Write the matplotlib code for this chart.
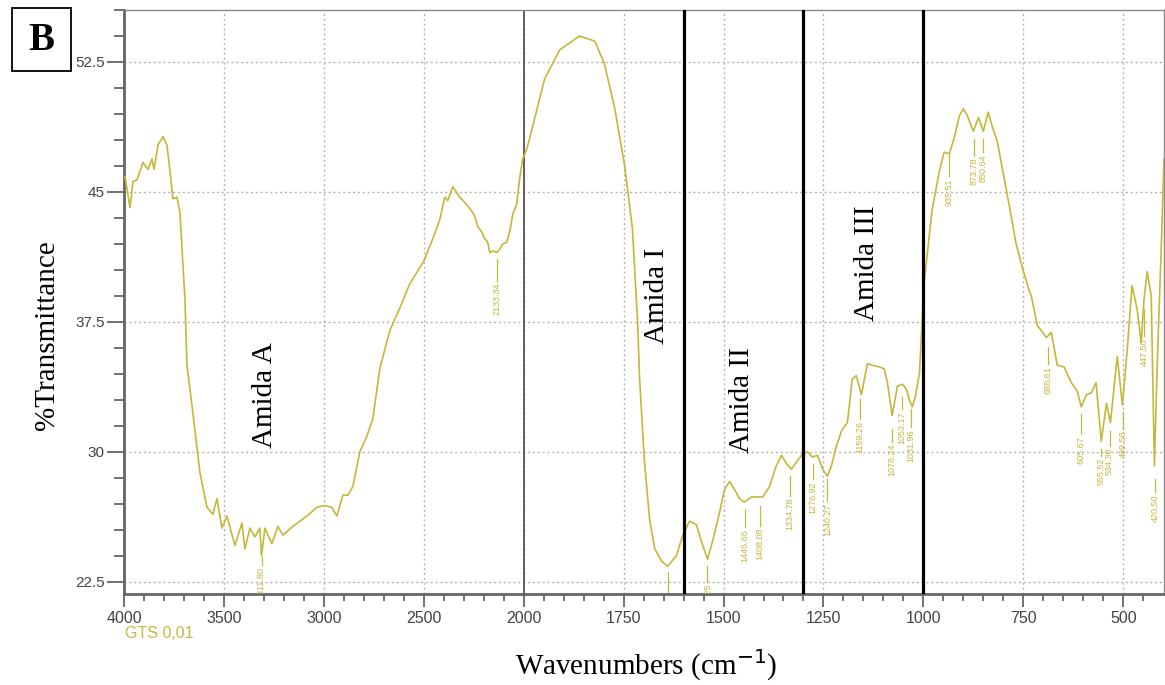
import numpy as np
import matplotlib.pyplot as plt
from matplotlib.patches import Rectangle

# FTIR spectrum (wavenumber cm-1, %T)
wavenumber = [3995, 3970, 3955, 3935, 3905, 3880, 3860, 3850, 3830, 3805,
              3785, 3770, 3755, 3735, 3720, 3695, 3685, 3660, 3620, 3585,
              3555, 3535, 3510, 3485, 3445, 3410, 3395, 3370, 3345, 3320,
              3312, 3295, 3260, 3230, 3205, 3155, 3085, 3035, 2995, 2960,
              2935, 2905, 2880, 2855, 2820, 2785, 2755, 2720, 2670, 2620,
              2570, 2500, 2445, 2420, 2395, 2380, 2355, 2320, 2295, 2260,
              2245, 2230, 2210, 2195, 2180, 2170, 2155, 2135, 2120, 2105,
              2085, 2070, 2055, 2035, 2020, 2005, 1992, 1985, 1948, 1910,
              1860, 1822, 1798, 1772, 1748, 1728, 1715, 1710, 1698, 1685,
              1672, 1655, 1640, 1618, 1602, 1585, 1568, 1552, 1540, 1528,
              1510, 1498, 1485, 1472, 1460, 1448, 1430, 1418, 1402, 1385,
              1368, 1355, 1342, 1330, 1318, 1302, 1290, 1278, 1265, 1252,
              1240, 1230, 1218, 1205, 1190, 1178, 1168, 1155, 1140, 1128,
              1110, 1098, 1090, 1078, 1065, 1052, 1042, 1035, 1028, 1020,
              1010, 998, 978, 960, 948, 935, 922, 910, 900, 890,
              875, 862, 850, 838, 828, 815, 802, 785, 768, 752,
              735, 730, 715, 702, 692, 680, 665, 648, 630, 615,
              605, 592, 580, 568, 555, 542, 532, 515, 502, 490,
              478, 465, 455, 448, 440, 430, 422, 415, 405, 398]
transmittance = [45.9, 44.1, 45.6, 45.7, 46.7, 46.3, 46.9, 46.3, 47.7, 48.2,
                 47.7, 46.2, 44.6, 44.7, 43.8, 38.8, 35.0, 32.7, 28.8, 26.8,
                 26.4, 27.3, 25.6, 26.3, 24.6, 25.9, 24.4, 25.6, 25.1, 25.6,
                 24.0, 25.6, 24.7, 25.7, 25.2, 25.7, 26.3, 26.8, 26.9, 26.8,
                 26.3, 27.5, 27.5, 28.0, 30.0, 30.9, 31.9, 34.8, 37.0, 38.3,
                 39.7, 41.0, 42.6, 43.4, 44.7, 44.5, 45.3, 44.7, 44.4, 43.9,
                 43.6, 43.0, 42.7, 42.3, 42.1, 41.5, 41.6, 41.5, 41.7, 42.0,
                 42.1, 42.7, 43.7, 44.3, 45.8, 46.9, 47.5, 48.1, 51.5, 53.2,
                 54.0, 53.7, 52.4, 49.8, 46.6, 42.9, 37.5, 34.2, 29.5, 26.1,
                 24.4, 23.7, 23.4, 24.0, 25.2, 26.0, 25.8, 24.6, 23.8, 24.8,
                 26.5, 27.8, 28.3, 27.8, 27.3, 27.1, 27.4, 27.4, 27.4, 28.0,
                 29.2, 29.8, 29.3, 29.0, 29.4, 29.9, 30.0, 29.7, 29.8, 29.0,
                 28.6, 29.2, 30.3, 31.2, 31.7, 34.2, 34.4, 33.3, 35.1, 35.0,
                 34.9, 34.8, 34.0, 32.1, 33.8, 33.9, 33.6, 33.0, 32.6, 33.2,
                 34.5, 39.8, 44.0, 46.2, 47.3, 47.2, 48.2, 49.4, 49.8, 49.4,
                 48.5, 49.3, 48.5, 49.6, 48.8, 47.9, 46.3, 44.2, 42.0, 40.6,
                 39.3, 39.0, 37.3, 36.9, 36.6, 36.9, 35.0, 34.9, 34.0, 33.5,
                 32.6, 33.3, 33.4, 34.0, 30.6, 32.8, 31.7, 35.5, 32.7, 35.9,
                 39.6, 38.2, 36.3, 38.8, 40.4, 39.0, 29.2, 35.0, 41.7, 46.9]

# peak labels: position, text, top/bottom of the marker line (%T)
peak_wn = [3311.80, 2133.34, 1640.0, 1540.25, 1446.66, 1408.08, 1334.78,
           1276.92, 1240.27, 1159.26, 1078.24, 1053.17, 1031.96, 935.51,
           873.78, 850.64, 688.61, 605.67, 555.52, 534.30, 499.58, 447.50,
           420.50]
peak_text = ['3311.80', '2133.34', '', '1541.25', '1446.66', '1408.08',
             '1334.78', '1276.92', '1240.27', '1159.26', '1078.24', '1053.17',
             '1031.96', '935.51', '873.78', '850.64', '688.61', '605.67',
             '555.52', '534.30', '499.58', '447.50', '420.50']
peak_top = [23.94, 41.13, 23.08, 23.4, 26.71, 26.89, 28.62, 29.31, 28.44,
            33.06, 31.33, 33.17, 32.48, 47.19, 48.06, 48.06, 36.06, 32.19,
            30.17, 31.21, 32.31, 38.25, 28.44]
peak_bot = [23.48, 39.87, 21.9, 22.5, 25.67, 25.73, 27.46, 28.44, 27.17,
            31.90, 30.58, 32.48, 31.44, 45.92, 47.08, 47.31, 35.08, 31.04,
            29.77, 30.35, 31.33, 36.69, 27.69]

regions = ['Amida A', 'Amida I', 'Amida II', 'Amida III']
region_wn = [3295, 1667, 1455, 1142]
region_y = [33.3, 39.0, 33.0, 40.9]
region_lines = [1600, 1300, 1000]

xticks = [4000, 3500, 3000, 2500, 2000, 1750, 1500, 1250, 1000, 750, 500]
yticks = [22.5, 30, 37.5, 45, 52.5]

olive = '#c4b83a'
gray = '#666666'


def fwd(w):
    w = np.asarray(w, dtype=float)
    return np.where(w > 2000, 2000 + (w - 2000) / 2.0, w)


def inv(u):
    u = np.asarray(u, dtype=float)
    return np.where(u > 2000, 2000 + (u - 2000) * 2.0, u)


fig = plt.figure(figsize=(11.65, 6.85), dpi=100)
ax = fig.add_axes([124 / 1165, 91 / 685, 1040 / 1165, 584 / 685])
ax.set_xscale('function', functions=(fwd, inv))
ax.set_xlim(4000, 398)
ax.set_ylim(21.8, 55.5)

ax.set_xticks(xticks)
ax.set_xticklabels([str(t) for t in xticks])
ax.set_xticks(list(range(3900, 2000, -100)) + list(range(1950, 400, -50)),
              minor=True)
ax.set_yticks(yticks)
ax.set_yticklabels(['22.5', '30', '37.5', '45', '52.5'])
ax.set_yticks(np.arange(24, 55.6, 1.5), minor=True)

ax.grid(True, which='major', linestyle=(0, (1.5, 2)), color='#b5b5b5', lw=1)
for s in ax.spines.values():
    s.set_color('#8a8a8a')
    s.set_linewidth(1.0)
ax.spines['left'].set_linewidth(2.0)
ax.spines['bottom'].set_linewidth(2.0)
ax.spines['left'].set_color(gray)
ax.spines['bottom'].set_color(gray)

ax.tick_params(axis='x', which='major', direction='out', length=9.5,
               width=1.3, color=gray, labelsize=11.5, labelcolor='#444444',
               pad=3)
ax.tick_params(axis='x', which='minor', direction='out', length=5,
               width=1.3, color=gray)
ax.tick_params(axis='y', which='major', direction='out', length=12,
               width=1.3, color=gray, labelsize=11, labelcolor='#444444',
               pad=2)
ax.tick_params(axis='y', which='minor', direction='out', length=7,
               width=1.3, color=gray)
for lab in ax.get_xticklabels() + ax.get_yticklabels():
    lab.set_family('Liberation Sans')

ax.axvline(2000, color='#555555', lw=1.3, zorder=2)
for w in region_lines:
    ax.axvline(w, color='black', lw=2.3, zorder=4)

ax.plot(wavenumber, transmittance, color=olive, lw=1.2, zorder=3)

for w, t, a, b in zip(peak_wn, peak_text, peak_top, peak_bot):
    ax.plot([w, w], [a, b], color=olive, lw=0.9, zorder=3)
    if t:
        ann = ax.annotate(t, (w, b), xytext=(0, -1.5),
                          textcoords='offset points', rotation=90,
                          ha='center', va='top', fontsize=6.5, color=olive,
                          family='Liberation Sans', annotation_clip=False)
        ann.set_clip_on(True)
        ann.set_clip_path(ax.patch)

for name, w, y in zip(regions, region_wn, region_y):
    ax.text(w, y, name, rotation=90, ha='center', va='center', fontsize=21,
            family='Liberation Serif', color='black')

ax.set_ylabel('%Transmittance', fontsize=21, family='Liberation Serif')
ax.yaxis.set_label_coords(-0.0615, 0.443)
fig.text(646 / 1165, 1 - 665 / 685, 'Wavenumbers (cm$^{-1}$)', ha='center',
         va='center', fontsize=21, family='Liberation Serif')
fig.text(125 / 1165, 1 - 633 / 685, 'GTS 0,01', ha='left', va='center',
         fontsize=11.5, color=olive, family='Liberation Sans')

fig.patches.append(Rectangle((12 / 1165, 1 - 71 / 685), 59 / 1165, 63 / 685,
                             transform=fig.transFigure, fill=False,
                             edgecolor='black', lw=1.3))
fig.text(41.5 / 1165, 1 - 40 / 685, 'B', ha='center', va='center',
         fontsize=28, fontweight='bold', family='Liberation Serif')

fig.savefig('out.png', dpi=100)
